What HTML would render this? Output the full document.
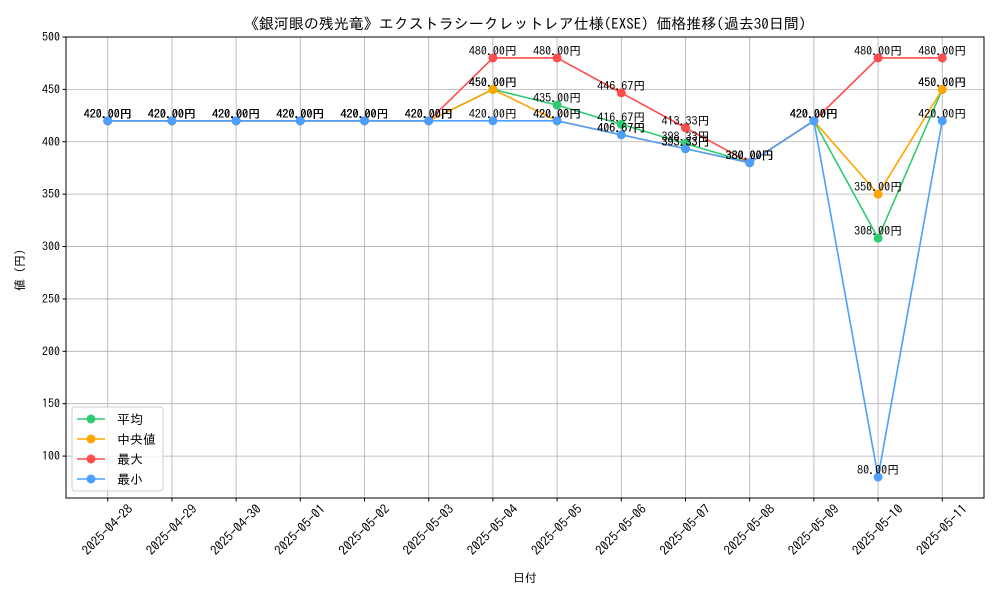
<!DOCTYPE html>
<html><head><meta charset="utf-8">
<style>
body{margin:0;background:#fff;}
svg text{font-family:"IPAGothic","Liberation Sans","Noto Sans CJK JP",sans-serif;fill:#000;}
</style></head>
<body>
<svg id="chart" width="1000" height="600" xmlns="http://www.w3.org/2000/svg">
<rect width="1000" height="600" fill="#fff"/>
<g id="grid"></g>
<g id="lines"></g>
<g id="labels"></g>
<rect x="66" y="37" width="918" height="461" fill="none" stroke="#000" stroke-width="1"/>
<g id="axes"></g>
<text x="525" y="29" text-anchor="middle" font-size="15">《銀河眼の残光竜》エクストラシークレットレア仕様(EXSE) 価格推移(過去30日間)</text>
<text x="525" y="582" text-anchor="middle" font-size="12">日付</text>
<text transform="translate(24,267) rotate(-90)" text-anchor="middle" font-size="12">値（円）</text>
<g id="legend">
<rect x="72" y="407" width="91" height="84" rx="3" fill="#fff" fill-opacity="0.8" stroke="#ccc"/>
</g>
</svg>
<script>
const dates=["2025-04-28","2025-04-29","2025-04-30","2025-05-01","2025-05-02","2025-05-03","2025-05-04","2025-05-05","2025-05-06","2025-05-07","2025-05-08","2025-05-09","2025-05-10","2025-05-11"];
const avgVals=[420,420,420,420,420,420,450,435,416.67,398.33,380,420,308,450];
const medVals=[420,420,420,420,420,420,450,420,406.67,393.33,380,420,350,450];
const maxVals=[420,420,420,420,420,420,480,480,446.67,413.33,380,420,480,480];
const minVals=[420,420,420,420,420,420,420,420,406.67,393.33,380,420,80,420];
const yTicks=[100,150,200,250,300,350,400,450,500];
const seriesNames=["平均","中央値","最大","最小"];
const NS="http://www.w3.org/2000/svg";
const X0=66,X1=984,Y0=37,Y1=498,XMIN=-0.65,XMAX=13.65,YMIN=60,YMAX=500;
const xs=i=>X0+(i-XMIN)/(XMAX-XMIN)*(X1-X0);
const ys=v=>Y1-(v-YMIN)/(YMAX-YMIN)*(Y1-Y0);
function mk(tag,attrs,parent){const e=document.createElementNS(NS,tag);for(const k in attrs)e.setAttribute(k,attrs[k]);parent.appendChild(e);return e;}
const grid=document.getElementById('grid'),axes=document.getElementById('axes'),lines=document.getElementById('lines'),labels=document.getElementById('labels'),legend=document.getElementById('legend');
yTicks.forEach(t=>{
 const y=ys(t);
 const g=mk('line',{x1:X0,x2:X1,y1:y,y2:y,stroke:'#b0b0b0','stroke-width':0.8},grid);
 
 
 mk('line',{x1:X0-3.5,x2:X0,y1:y,y2:y,stroke:'#000'},axes);
 const tx=mk('text',{x:X0-6,y:y+4,'text-anchor':'end','font-size':12},axes);
 tx.textContent=t;
 
 
});
dates.forEach((d,i)=>{
 const x=xs(i);
 const g=mk('line',{x1:x,x2:x,y1:Y0,y2:Y1,stroke:'#b0b0b0','stroke-width':0.8},grid);
 
 
 mk('line',{x1:x,x2:x,y1:Y1,y2:Y1+3.5,stroke:'#000'},axes);
 const cy=Y1+32;
 const tx=mk('text',{x:x,y:cy+4,'text-anchor':'middle','font-size':13,transform:`rotate(-45 ${x} ${cy})`},axes);
 tx.textContent=d;
 
 
});
const series=[[avgVals,'#2ecc71','avg'],[medVals,'#ffa500','median'],[maxVals,'#ff4d4d','max'],[minVals,'#4d9fff','min']];
series.forEach(([vals,col,key],si)=>{
 const pts=vals.map((v,i)=>xs(i)+','+ys(v)).join(' ');
 const pl=mk('polyline',{points:pts,fill:'none',stroke:col,'stroke-width':1.6},lines);
 
 
 vals.forEach((v,i)=>{
  const c=mk('circle',{cx:xs(i),cy:ys(v),r:4.5,fill:col},lines);
  
  
  const t=mk('text',{x:xs(i),y:ys(v)-3,'text-anchor':'middle','font-size':12},labels);
  t.textContent=v.toFixed(2)+'円';
  
  
 });
 const ly=419+si*20;
 mk('line',{x1:77,x2:105,y1:ly,y2:ly,stroke:col,'stroke-width':1.6},legend);
 mk('circle',{cx:91,cy:ly,r:4.5,fill:col},legend);
 const lt=mk('text',{x:117,y:ly+5,'font-size':13},legend);
 lt.textContent=seriesNames[si];
 
 
});
</script>
</body></html>
